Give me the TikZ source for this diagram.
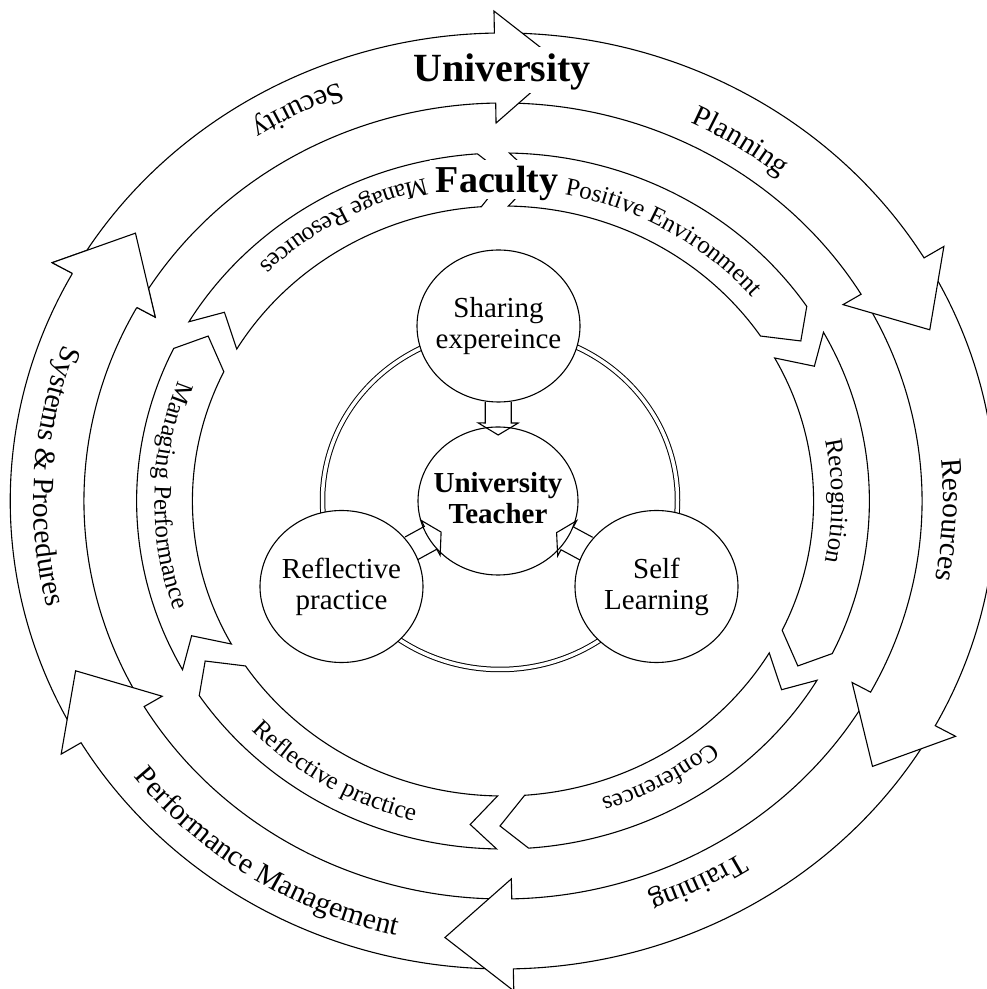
\documentclass[tikz,border=0pt]{standalone}
\usepackage{fontspec}
\setmainfont{Liberation Serif}
\usetikzlibrary{decorations.text,calc,shapes.geometric}
\tikzset{
  band/.style={draw=black, fill=white, line width=1.1pt, line join=miter, miter limit=20},
  edgeline/.style={draw=black, line width=1.1pt, line join=miter, miter limit=20},
  bubble/.style={ellipse, draw=black, fill=white, line width=1.1pt, minimum width=163pt, minimum height=152pt, inner sep=0pt},
  bubbletext/.style={align=center, inner sep=0pt, font=\fontsize{29}{31}\selectfont},
  blockarrow/.style={draw=black, line width=1.1pt, line join=miter},
  titlelabel/.style={fill=white, inner xsep=6pt, inner ysep=0pt, anchor=base},
  dbl/.style={draw=black, line width=1pt, double=white, double distance=3.5pt},
}
\newcommand{\outerarrow}[2]{%
  \draw[band] (#1-2:492.8 and 468) arc[start angle=#1-2, end angle=#2, x radius=492.8, y radius=468]
    -- (#2:516 and 490) -- (#2-8.4:463.3 and 440) -- (#2:398 and 378) -- (#2:419.1 and 398)
    arc[start angle=#2, end angle=#1-2, x radius=419.1, y radius=398] -- cycle;}
\newcommand{\midarrow}[1]{%
  \draw[band] (#1:366.4 and 348) arc[start angle=#1, end angle=#1-55, x radius=366.4, y radius=348]
    -- (#1-59.5:342.2 and 325) -- (#1-55:310.6 and 295)
    arc[start angle=#1-55, end angle=#1, x radius=310.6, y radius=295] -- (#1-4.5:342.2 and 325) -- cycle;}
\newcommand{\cwtext}[5]{%
  \path[decorate, decoration={text along path, text align=center, text={|\fontsize{#4}{#4}\selectfont|#5}}]
    (#1+45:#2 and #3) arc[start angle=#1+45, end angle=#1-45, x radius=#2, y radius=#3];}
\newcommand{\ccwtext}[5]{%
  \path[decorate, decoration={text along path, text align=center, text={|\fontsize{#4}{#4}\selectfont|#5}}]
    (#1-45:#2 and #3) arc[start angle=#1-45, end angle=#1+45, x radius=#2, y radius=#3];}
\newcommand{\blockarrow}[4]{%
  \pgfmathsetmacro\baS{#3}%
  \pgfmathsetmacro\baH{#3+#4}%
  \pgfmathsetmacro\baT{#3+#4+12}%
  \coordinate (#1-#2-s) at ($(#1.center)!\baS pt!(#2.center)$);
  \coordinate (#1-#2-h) at ($(#1.center)!\baH pt!(#2.center)$);
  \coordinate (#1-#2-t) at ($(#1.center)!\baT pt!(#2.center)$);
  \draw[blockarrow] ($(#1-#2-s)!13pt!90:(#2.center)$) -- ($(#1-#2-h)!13pt!90:(#2.center)$)
    -- ($(#1-#2-h)!20pt!90:(#2.center)$) -- (#1-#2-t) -- ($(#1-#2-h)!20pt!-90:(#2.center)$)
    -- ($(#1-#2-h)!13pt!-90:(#2.center)$) -- ($(#1-#2-s)!13pt!-90:(#2.center)$);}

\begin{document}
\begin{tikzpicture}[x=1pt,y=1pt]
\useasboundingbox (0,0) rectangle (987,989);
\fill[white] (0,0) rectangle (987,989);
\begin{scope}[shift={(503,488)}]
  % outer ring (University level)
  \outerarrow{-148.9}{-209.1}
  \outerarrow{-88.8}{-148.9}
  \outerarrow{-28.7}{-88.8}
  \outerarrow{31.3}{-28.7}
  \outerarrow{91}{31.3}
  \outerarrow{150.9}{91}
  \fill[white] (150.9:492.8 and 468) -- (150.9:516 and 490) -- (142.5:463.3 and 440) -- (150.9:398 and 378) -- (150.9:419.1 and 398) -- cycle;
  \draw[edgeline] (150.9:492.8 and 468) -- (150.9:516 and 490) -- (142.5:463.3 and 440) -- (150.9:398 and 378) -- (150.9:419.1 and 398);
  % middle ring (Faculty level)
  \midarrow{149}
  \midarrow{89}
  \midarrow{29}
  \midarrow{-31}
  \midarrow{-91}
  \midarrow{-151}
  % outer texts
  \ccwtext{117}{469.6}{446}{29.5}{Security}
  \cwtext{57.2}{440.2}{418}{29.5}{Planning}
  \cwtext{-2.5}{440.2}{418}{29.5}{Resources}
  \cwtext{-63.5}{440.2}{418}{29.5}{Training}
  \ccwtext{-123}{469.6}{446}{29.5}{Performance Management}
  \ccwtext{176.7}{469.6}{446}{29.5}{Systems {\&} Procedures}
  % middle texts
  \ccwtext{119.2}{348.5}{331}{25}{Manage Resources}
  \cwtext{59.5}{328.5}{312}{25}{Positive Environment}
  \cwtext{0}{328.5}{312}{25}{Recognition}
  \cwtext{-61}{328.5}{312}{25}{Conferences}
  \ccwtext{-121}{348.5}{331}{25}{Reflective practice}
  \ccwtext{179}{348.5}{331}{25}{Managing Performance}
\end{scope}

% inner double ring
\draw[dbl] (500,489) ellipse [x radius=177.5, y radius=169.5];

% circles
\node[bubble] (share) at (498.5,663) {};
\node[bubble, minimum width=160pt, minimum height=148pt] (teach) at (498,488) {};
\node[bubble] (refl) at (341.5,402.5) {};
\node[bubble] (self) at (656.5,402.5) {};
\node[bubbletext] (sharetxt) at (share.center) {Sharing\\expereince};
\node[bubbletext, font=\bfseries\fontsize{29}{31}\selectfont] (teachtxt) at ([yshift=3pt]teach.center) {University\\Teacher};
\node[bubbletext] (refltxt) at (refl.center) {Reflective\\practice};
\node[bubbletext] (selftxt) at (self.center) {Self\\Learning};

% block arrows
\blockarrow{share}{teach}{76}{21}
\blockarrow{refl}{teach}{79.5}{22}
\blockarrow{self}{teach}{79.5}{22}

% titles
\node[titlelabel, font=\bfseries\fontsize{40}{40}\selectfont, text height=35pt, text depth=11pt] (univ) at (502,907) {University};
\node[titlelabel, font=\bfseries\fontsize{38}{38}\selectfont, text height=33pt, text depth=6pt] (fac) at (497,796) {Faculty};
\end{tikzpicture}
\end{document}
